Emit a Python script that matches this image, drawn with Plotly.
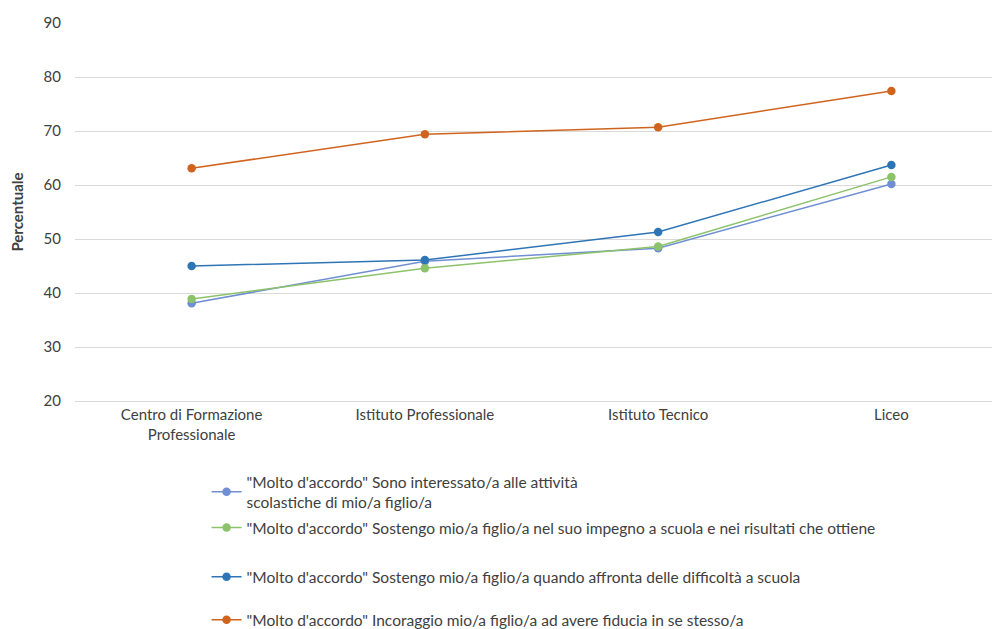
import plotly.graph_objects as go

# Data
categories = ["Centro di Formazione<br>Professionale", "Istituto Professionale", "Istituto Tecnico", "Liceo"]

series_names = [
    "\"Molto d'accordo\" Sono interessato/a alle attività<br>scolastiche di mio/a figlio/a",
    "\"Molto d'accordo\" Sostengo mio/a figlio/a nel suo impegno a scuola e nei risultati che ottiene",
    "\"Molto d'accordo\" Sostengo mio/a figlio/a quando affronta delle difficoltà a scuola",
    "\"Molto d'accordo\" Incoraggio mio/a figlio/a ad avere fiducia in se stesso/a",
]
interessato = [38.1, 45.9, 48.3, 60.2]
impegno = [38.9, 44.6, 48.6, 61.5]
difficolta = [45.0, 46.1, 51.3, 63.7]
fiducia = [63.1, 69.4, 70.7, 77.4]

colors = ["#6f8fd2", "#8cc26a", "#2e75b6", "#d0641f"]

# one legend per series so the spacing can follow the original
legend_ids = ["legend", "legend2", "legend3", "legend4"]
legend_y = [-0.241, -0.336, -0.466, -0.58]

fig = go.Figure()
for i, (name, vals) in enumerate(zip(series_names, [interessato, impegno, difficolta, fiducia])):
    fig.add_trace(go.Scatter(
        x=categories, y=vals, name=name, mode="lines+markers",
        line=dict(color=colors[i], width=1.5),
        marker=dict(color=colors[i], size=8.5),
        legend=legend_ids[i],
    ))

font_color = "#404040"
layout_legends = {}
for lid, ly in zip(legend_ids, legend_y):
    layout_legends[lid] = dict(
        orientation="v", x=0.141, xanchor="left", y=ly, yanchor="middle",
        font=dict(size=15.5, color=font_color), bgcolor="rgba(0,0,0,0)",
        itemwidth=30,
    )

fig.update_layout(
    width=1000, height=629,
    paper_bgcolor="white", plot_bgcolor="white",
    font=dict(family="Lato, 'Open Sans', sans-serif", size=15, color=font_color),
    margin=dict(l=67, r=0, t=15, b=236, autoexpand=False),
    showlegend=True,
    xaxis=dict(showgrid=False, showline=True, linecolor="#d9d9d9", ticks="",
               range=[-0.5, 3.5], tickfont=dict(size=15, color=font_color)),
    yaxis=dict(range=[20, 90], dtick=10, showgrid=True, gridcolor="#d9d9d9",
               zeroline=False, showline=False, ticks="", ticklabelstandoff=13,
               tickfont=dict(size=15, color=font_color),
               title=dict(text="<b>Percentuale</b>", font=dict(size=15, color=font_color), standoff=16)),
    **layout_legends,
)

fig.write_html("out.html")
